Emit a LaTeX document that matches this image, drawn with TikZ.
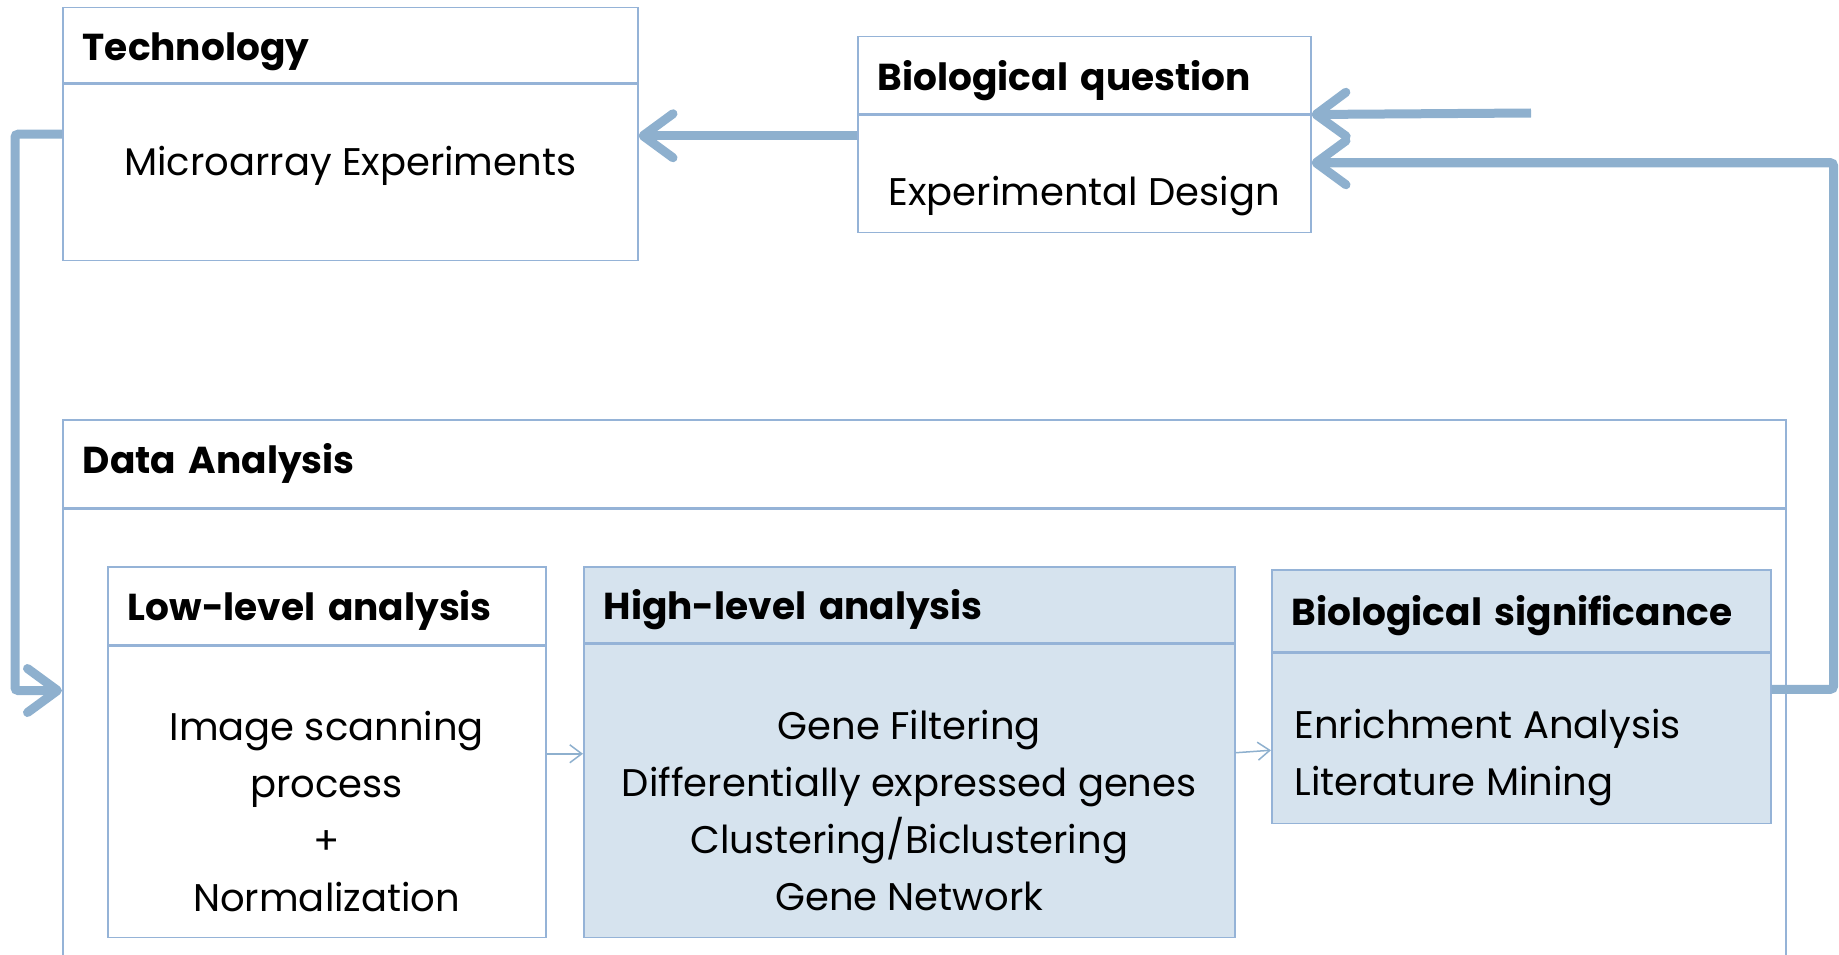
\documentclass[tikz,border=0pt]{standalone}
\usepackage{fontspec}
\setmainfont{Poppins}
\usetikzlibrary{arrows.meta,positioning}
\definecolor{edge}{HTML}{95B3D7}
\definecolor{flow}{HTML}{8EB0CE}
\definecolor{shade}{HTML}{D6E3EE}

\begin{document}
\begin{tikzpicture}[x=1pt,y=-1pt,
  font=\fontsize{38.5}{57}\selectfont,
  box/.style={draw=edge,line width=1.5pt,rectangle,inner sep=0pt,anchor=north west},
  hdr/.style={box,font=\fontsize{37.5}{44}\selectfont\bfseries,align=left,inner xsep=20pt},
  lowtext/.style={text height=36pt,text depth=6pt},
  bigarr/.style={draw=flow,line width=9pt,-{Straight Barb[length=30pt,width=44pt,round]}},
  smallarr/.style={draw=flow,line width=1.5pt,-{Straight Barb[length=12pt,width=18pt]}}]
  \useasboundingbox (0,0) rectangle (1839,955);
  \clip (0,0) rectangle (1839,955);

  % top row
  \node[hdr,lowtext,text width=535pt,minimum height=75pt] (tech-h) at (62,7) {Technology};
  \node[box,minimum width=575pt,minimum height=176pt] (tech-b) at (tech-h.south west) {};
  \node (tech-t) at ([yshift=6pt]tech-b.center) {Microarray Experiments};

  \node[hdr,lowtext,text width=413pt,minimum height=77pt] (bq-h) at (857,36) {Biological question};
  \node[box,minimum width=453pt,minimum height=117pt] (bq-b) at (bq-h.south west) {};
  \node (bq-t) at ([yshift=-22pt]bq-b.center) {Experimental Design};

  % data analysis
  \node[hdr,text width=1683pt,minimum height=88pt] (da-h) at (62,419) {Data Analysis};
  \node[box,minimum width=1723pt,minimum height=500pt] (da-b) at (da-h.south west) {};

  \node[hdr,lowtext,text width=398pt,minimum height=78pt] (ll-h) at (107,566) {Low-level analysis};
  \node[box,minimum width=438pt,minimum height=291pt] (ll-b) at (ll-h.south west) {};
  \node[align=center] (ll-t) at ([yshift=-20pt]ll-b.center)
    {Image scanning\\process\\+\\Normalization};

  \node[hdr,lowtext,fill=shade,text width=611pt,minimum height=76pt] (hl-h) at (583,566) {High-level analysis};
  \node[box,fill=shade,minimum width=651pt,minimum height=293pt] (hl-b) at (hl-h.south west) {};
  \node[align=center] (hl-t) at ([yshift=-20pt]hl-b.center)
    {Gene Filtering\\Differentially expressed genes\\Clustering/Biclustering\\Gene Network};

  \node[hdr,lowtext,fill=shade,text width=459pt,minimum height=82pt] (bs-h) at (1271,569) {Biological significance};
  \node[box,fill=shade,minimum width=499pt,minimum height=170pt] (bs-b) at (bs-h.south west) {};
  \node[align=left,anchor=west] (bs-t) at ([xshift=20pt,yshift=-19pt]bs-b.west)
    {Enrichment Analysis\\Literature Mining};

  % flows
  \coordinate (qin) at (1531,113);
  \draw[bigarr] (qin) -- (bq-h.south east);
  \draw[bigarr] ([yshift=38pt]bq-b.west) coordinate (q2t) -- (q2t -| tech-b.east);
  \draw[bigarr,rounded corners=3pt] ([yshift=38pt]tech-b.west) -- ++(-47,0)
    |- ([yshift=-182pt]da-h.south west);
  \draw[bigarr,rounded corners=3pt] ([yshift=49pt]bs-b.east) -- ++(62,0)
    |- ([yshift=11pt]bq-b.east);
  \draw[smallarr] ([yshift=38pt]ll-b.east) coordinate (l2h) -- (l2h -| hl-b.west);
  \draw[smallarr] ([yshift=38pt]hl-b.east) -- ([yshift=-12pt]bs-b.west);
\end{tikzpicture}
\end{document}
